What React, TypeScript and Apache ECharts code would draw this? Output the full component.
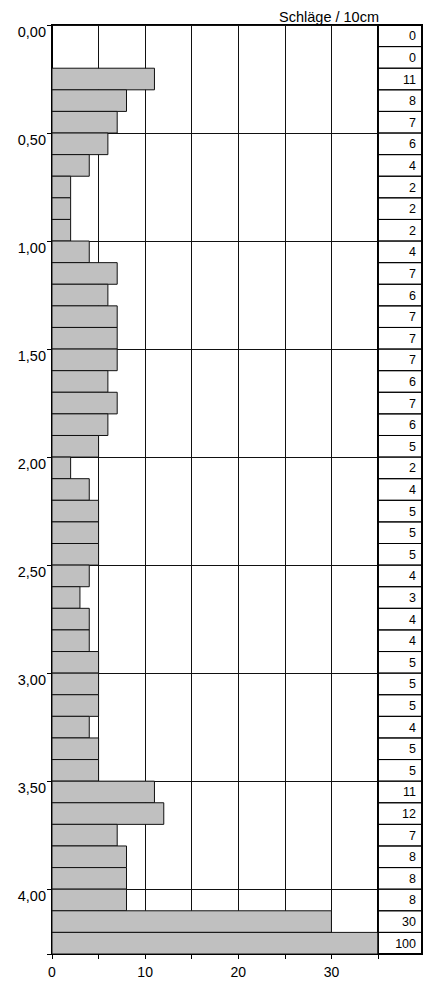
import React, { useEffect, useRef } from "react";
import * as echarts from "echarts";

// Blows per 10 cm, from 0,00 m downwards
const blows = [
  0, 0, 11, 8, 7, 6, 4, 2, 2, 2, 4, 7, 6, 7, 7, 7, 6, 7, 6, 5, 2, 4, 5, 5, 5, 4, 3, 4, 4, 5, 5, 5, 4, 5,
  5, 11, 12, 7, 8, 8, 8, 30, 100,
];
const depthStep = 0.1;
const depthMax = 4.3;
const depthLabelMax = 4.0;
const depthInterval = 0.5;
const blowsMax = 35;
const blowsInterval = 5;
const blowsLabels = [0, 10, 20, 30];
const unitLabel = "Schläge / 10cm";

const FONT = '"Liberation Sans", Arial, Helvetica, sans-serif';

export default function App() {
  const ref = useRef<HTMLDivElement>(null);

  useEffect(() => {
    if (!ref.current) return;
    const chart = echarts.init(ref.current, undefined, { renderer: "svg" });

    const rows = blows.map((v, i) => [i * depthStep, v]);

    const option: any = {
      animation: false,
      backgroundColor: "#fff",
      grid: [
        { left: 52, top: 25, width: 326, height: 929, show: true, borderColor: "#000", borderWidth: 2, backgroundColor: "transparent" },
        { left: 378, top: 25, width: 44, height: 929, show: true, borderColor: "#000", borderWidth: 2, backgroundColor: "transparent" },
      ],
      xAxis: [
        {
          gridIndex: 0,
          type: "value",
          min: 0,
          max: blowsMax,
          interval: blowsInterval,
          position: "bottom",
          axisLine: { show: true, onZero: false, lineStyle: { color: "#000", width: 2 } },
          axisTick: { show: true, length: 5, lineStyle: { color: "#000", width: 1 } },
          axisLabel: {
            formatter: (v: number) => (blowsLabels.indexOf(v) >= 0 ? String(v) : ""),
            fontSize: 14,
            fontFamily: FONT,
            color: "#000",
            margin: 11,
          },
          splitLine: { show: true, lineStyle: { color: "#111", width: 1 } },
        },
        { gridIndex: 1, type: "value", min: 0, max: 1, show: false },
      ],
      yAxis: [
        {
          gridIndex: 0,
          type: "value",
          min: 0,
          max: depthMax,
          interval: depthInterval,
          inverse: true,
          axisLine: { show: true, onZero: false, lineStyle: { color: "#000", width: 2 } },
          axisTick: { show: true, length: 5, lineStyle: { color: "#000", width: 1 } },
          axisLabel: {
            formatter: (v: number) => (v <= depthLabelMax + 1e-6 ? v.toFixed(2).replace(".", ",") : ""),
            fontSize: 14.5,
            lineHeight: 14,
            fontFamily: FONT,
            color: "#000",
            verticalAlign: "top",
            margin: 6,
          },
          splitLine: { show: true, lineStyle: { color: "#111", width: 1 } },
        },
        { gridIndex: 1, type: "value", min: 0, max: depthMax, inverse: true, show: false },
      ],
      graphic: [
        {
          type: "text",
          z: 10,
          style: {
            text: unitLabel,
            x: 379,
            y: 24,
            align: "right",
            verticalAlign: "bottom",
            font: `14.5px ${FONT}`,
            fill: "#000",
          },
        },
      ],
      series: [
        {
          type: "custom",
          xAxisIndex: 0,
          yAxisIndex: 0,
          clip: true,
          data: rows,
          renderItem: (params: any, api: any) => {
            const d = api.value(0);
            const v = api.value(1);
            if (!v) return null;
            const p0 = api.coord([0, d]);
            const p1 = api.coord([Math.min(v, blowsMax), d + depthStep]);
            return {
              type: "rect",
              shape: { x: p0[0], y: p0[1], width: p1[0] - p0[0], height: p1[1] - p0[1] },
              style: { fill: "#c0c0c0", stroke: "#111", lineWidth: 1 },
            };
          },
        },
        {
          type: "custom",
          xAxisIndex: 1,
          yAxisIndex: 1,
          data: rows,
          renderItem: (params: any, api: any) => {
            const d = api.value(0);
            const v = api.value(1);
            const p0 = api.coord([0, d]);
            const p1 = api.coord([1, d + depthStep]);
            return {
              type: "group",
              children: [
                {
                  type: "rect",
                  shape: { x: p0[0], y: p0[1], width: p1[0] - p0[0], height: p1[1] - p0[1] },
                  style: { fill: "rgba(0,0,0,0)", stroke: "#000", lineWidth: 1 },
                },
                {
                  type: "text",
                  style: {
                    text: String(v),
                    x: p1[0] - 6,
                    y: (p0[1] + p1[1]) / 2 + 0.5,
                    align: "right",
                    verticalAlign: "middle",
                    font: `12.5px ${FONT}`,
                    fill: "#000",
                  },
                },
              ],
            };
          },
        },
      ],
    };

    chart.setOption(option);
    return () => chart.dispose();
  }, []);

  return (
    <div
      ref={ref}
      style={{ position: "absolute", left: 0, top: 0, width: 427, height: 981, background: "#fff" }}
    />
  );
}
